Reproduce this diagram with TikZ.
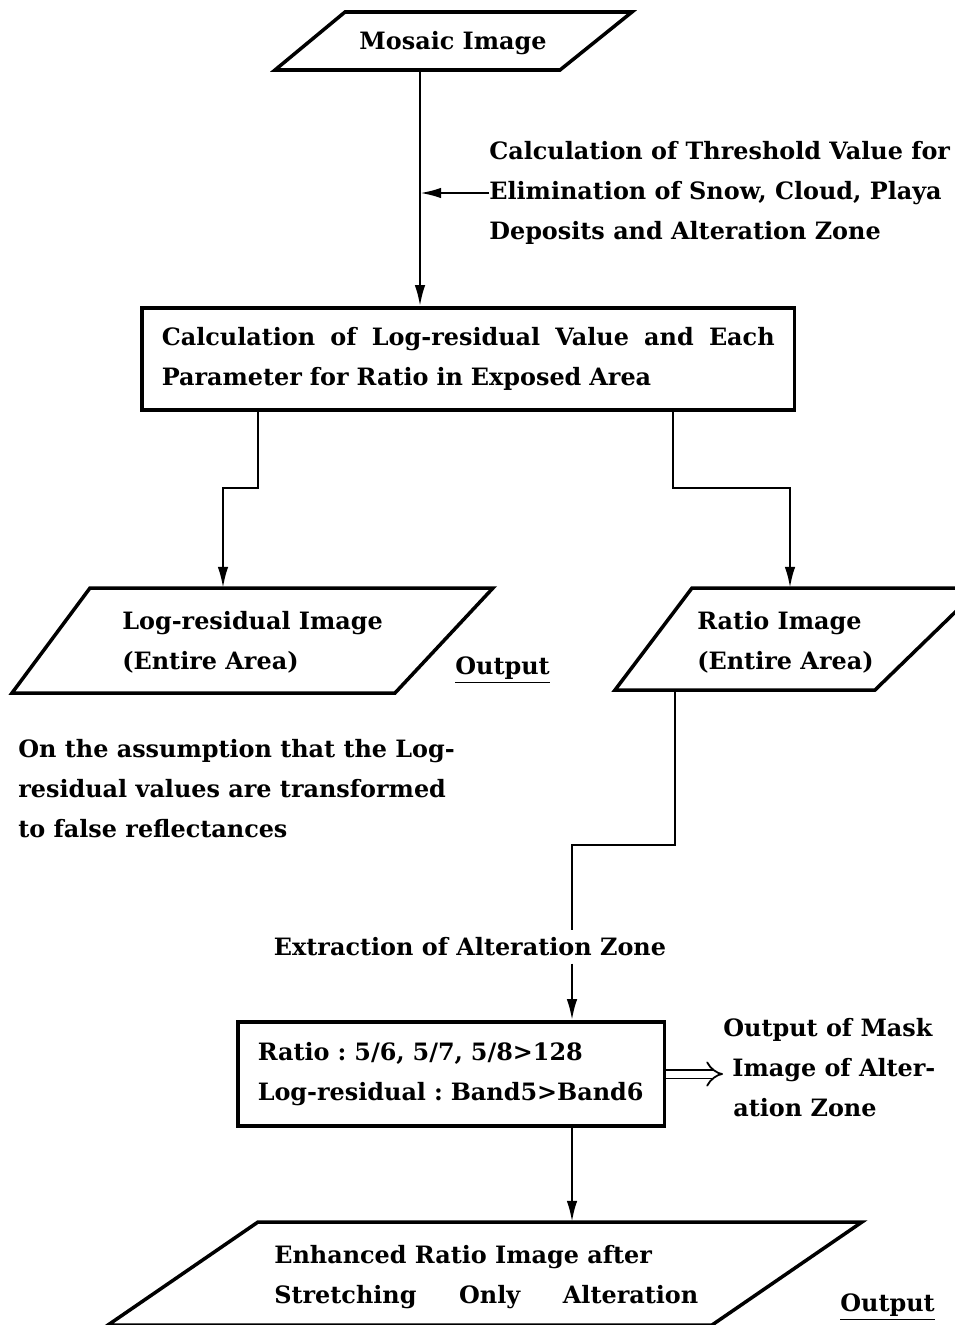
\documentclass[tikz,border=0pt]{standalone}
\usepackage{fontspec}
\setmainfont{DejaVu Serif}
\usetikzlibrary{arrows.meta,positioning}

\tikzset{
  frame/.style={line width=2pt},
  link/.style={line width=1.4pt},
  flow/.style={link,-{Latex[length=12pt,width=6pt]}},
  label/.style={inner sep=0pt,align=left,font=\bfseries\frenchspacing\fontsize{13.6}{22.8}\selectfont},
  box/.style={draw,frame,label,inner xsep=0.4cm,anchor=west},
}

\begin{document}
\begin{tikzpicture}[x=0.02cm,y=-0.02cm]
\useasboundingbox (0,0) rectangle (954,1325);

% mosaic image
\draw[frame] (345,12) -- (632,12) -- (560,70) -- (275,70) -- cycle;
\node[label] (mosaic) at (453,43) {Mosaic Image};
\coordinate (mosaicB) at (420,70);

% threshold note
\node[label,anchor=west] (thresh) at (489,193) {Calculation of Threshold Value for\\Elimination of Snow, Cloud, Playa\\Deposits and Alteration Zone};

% log-residual calculation
\node[box,minimum height=2.04cm,text width=12.26cm] (calc) at (140,359) {\makebox[12.26cm][s]{\spaceskip=0.33em plus 1em\relax Calculation of Log-residual Value and Each}\\Parameter for Ratio in Exposed Area};
\draw[flow] (mosaicB) -- (mosaicB |- calc.north);
\draw[link,-{Latex[length=12pt,width=6pt]}] (thresh.west) -- (thresh.west -| mosaicB);

% log-residual image
\draw[frame] (90,588) -- (493,588) -- (395,693) -- (12,693) -- cycle;
\node[label,anchor=west] (logres) at (122,642) {Log-residual Image\\(Entire Area)};
\node[label,anchor=west] (out1) at (455,670) {\underline{Output}};
\coordinate (logresT) at (223,588);
\coordinate (lbend) at (258,488);
\draw[flow] (calc.south -| lbend) -- (lbend) -| (logresT);

% ratio image
\draw[frame] (692,588) -- (980,588) -- (875,690) -- (615,690) -- cycle;
\node[label,anchor=west] (ratio) at (697,642) {Ratio Image\\(Entire Area)};
\coordinate (ratioT) at (790,588);
\coordinate (ratioB) at (675,690);
\coordinate (rbend) at (673,488);
\draw[flow] (calc.south -| rbend) -- (rbend) -| (ratioT);

% assumption note
\node[label,anchor=west] (assume) at (18,789) {On the assumption that the Log-\\residual values are transformed\\to false reflectances};

% extraction
\node[label,inner ysep=4pt] (extract) at (470,947) {Extraction of Alteration Zone};
\coordinate (rjog) at (572,845);
\draw[link] (ratioB) |- (rjog) -- (rjog |- extract.north);

\node[box,minimum height=2.08cm,text width=7.74cm] (mask) at (236,1074) {Ratio : 5/6, 5/7, 5/8>128\\Log-residual : Band5>Band6};
\draw[flow] (rjog |- extract.south) -- (rjog |- mask.north);

\node[label,anchor=west] (maskout) at (723,1068) {Output of Mask\\\hspace*{0.18cm}Image of Alter-\\\hspace*{0.2cm}ation Zone};
\draw[line width=1pt,double distance=4pt,-{Implies}] (mask.east) -- (maskout.west |- mask.east);

% enhanced ratio image
\draw[frame] (258,1222) -- (862,1222) -- (712,1325) -- (108,1325) -- cycle;
\node[label,anchor=west] (enh) at (274,1277) {Enhanced Ratio Image after\\\makebox[8.48cm][s]{Stretching Only Alteration}};
\node[label,anchor=west] (out2) at (840,1307) {\underline{Output}};
\coordinate (enhT) at (572,1222);
\draw[flow] (rjog |- mask.south) -- (enhT);
\end{tikzpicture}
\end{document}
